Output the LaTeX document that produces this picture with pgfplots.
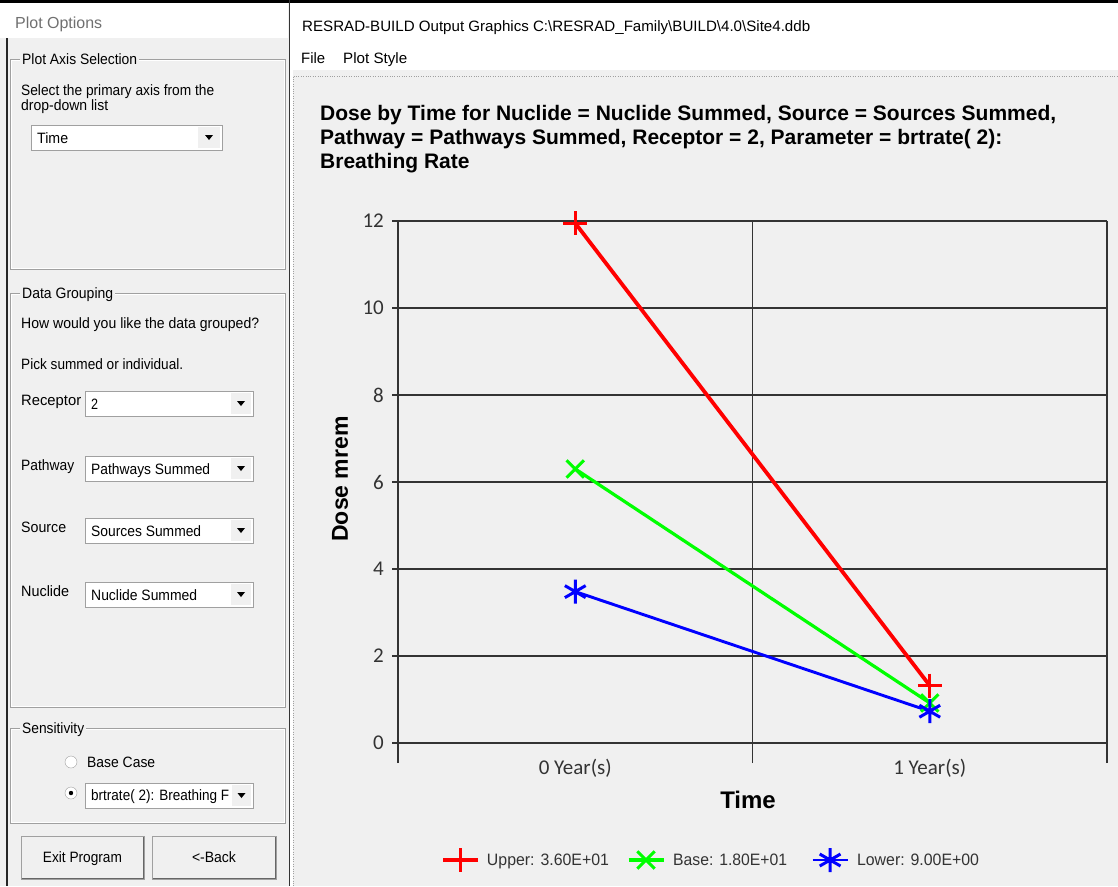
\documentclass[border=0pt]{standalone}
\usepackage{pgfplots}
\pgfplotsset{compat=1.18}
\usepackage{fontspec}
\setmainfont{Liberation Sans}
\newfontfamily\cali{Carlito}
\definecolor{bg}{HTML}{F0F0F0}
\definecolor{gb}{HTML}{A0A0A0}
\definecolor{tk}{HTML}{333333}
\definecolor{ttl}{HTML}{707070}
\newcommand{\gt}[2]{\resizebox{#1pt}{\height}{#2}}
\newcommand{\gf}{\fontsize{15}{17}\selectfont}
\pgfplotstableread{
x y
0 11.95
1 1.32
}\tabUp
\pgfplotstableread{
x y
0 6.30
1 0.92
}\tabBase
\pgfplotstableread{
x y
0 3.48
1 0.73
}\tabLow
\begin{document}
\begin{tikzpicture}
\useasboundingbox (0pt,0pt) rectangle (1118pt,-886pt);
\begin{scope}[x=1pt,y=1pt]
\fill[bg] (0,0) rectangle (1118,-886);
\fill[white] (0,0) rectangle (288,-38);
\fill[white] (290,0) rectangle (1118,-70);
\fill[white] (290,-70) rectangle (293,-886);
\draw[black, line width=3pt] (0,-1.5) -- (1118,-1.5);
\draw[black!85, line width=2pt] (7,-38) -- (7,-886);
\draw[black!80, line width=1pt] (289,0) -- (289,-886);
\draw[gb, dotted] (293.5,-76.5) -- (1118,-76.5);
\draw[gb, dotted] (293.5,-76.5) -- (293.5,-886);
% left panel
\node[anchor=base west, inner sep=0, font=\fontsize{16}{18}\selectfont, text=ttl] at (15,-28) {\gt{87}{Plot Options}};
% group 1
\draw[gb] (10,-59) rectangle (285,-269);
\draw[white] (11,-60) rectangle (284,-268);
\node[fill=bg, inner xsep=2pt, inner ysep=1pt, anchor=base west, font=\gf] at (20,-64) {\gt{115}{Plot Axis Selection}};
\node[anchor=base west, inner sep=0, font=\gf] at (21,-95.5) {\gt{193}{Select the primary axis from the}};
\node[anchor=base west, inner sep=0, font=\gf] at (21,-110.5) {\gt{87}{drop-down list}};
\draw[gb, fill=white] (31,-125) rectangle (222,-150);
\fill[bg] (198,-127) rectangle (220,-148);
\fill[black] (205,-135) -- (213,-135) -- (209,-140) -- cycle;
\node[anchor=base west, inner sep=0, font=\gf] at (37,-143) {\gt{31}{Time}};
% group 2
\draw[gb] (10,-293) rectangle (285,-707);
\draw[white] (11,-294) rectangle (284,-706);
\node[fill=bg, inner xsep=2pt, inner ysep=1pt, anchor=base west, font=\gf] at (20,-298) {\gt{91}{Data Grouping}};
\node[anchor=base west, inner sep=0, font=\gf] at (21,-328.5) {\gt{238}{How would you like the data grouped?}};
\node[anchor=base west, inner sep=0, font=\gf] at (21,-369.5) {\gt{162}{Pick summed or individual.}};
\foreach \yy/\lab/\lw/\val/\vw in {400/Receptor/60/2/7, 465/Pathway/53/Pathways Summed/119, 527/Source/45/Sources Summed/110, 591/Nuclide/48/Nuclide Summed/106}{
  \node[anchor=base west, inner sep=0, font=\gf] at (21,-\yy-5.5) {\gt{\lw}{\lab}};
  \draw[gb, fill=white] (85,-\yy+9) rectangle (253,-\yy-16);
  \fill[bg] (231,-\yy+7) rectangle (251,-\yy-14);
  \fill[black] (237,-\yy-1) -- (245,-\yy-1) -- (241,-\yy-6) -- cycle;
  \node[anchor=base west, inner sep=0, font=\gf] at (91,-\yy-9.5) {\gt{\vw}{\val}};
}
% group 3
\draw[gb] (10,-728) rectangle (285,-823);
\draw[white] (11,-729) rectangle (284,-822);
\node[fill=bg, inner xsep=2pt, inner ysep=1pt, anchor=base west, font=\gf] at (20,-733.5) {\gt{62}{Sensitivity}};
\draw[gb, fill=white] (71,-762) circle (6);
\node[anchor=base west, inner sep=0, font=\gf] at (87,-767.5) {\gt{68}{Base Case}};
\draw[gb, fill=white] (71,-793) circle (6);
\fill[black] (71,-793) circle (2.2);
\draw[gb, fill=white] (85,-783) rectangle (253,-808);
\fill[bg] (232,-785) rectangle (251,-806);
\fill[black] (237.5,-793) -- (245.5,-793) -- (241.5,-798) -- cycle;
\node[anchor=base west, inner sep=0, font=\gf] at (91,-800.5) {\gt{138}{brtrate( 2): Breathing F}};
% buttons
\draw[gb, fill=bg] (21,-836) rectangle (144,-879);
\draw[black!60] (21.5,-878.5) -- (143.5,-878.5) -- (143.5,-836.5);
\node[anchor=base, inner sep=0, font=\gf] at (82.5,-862.5) {\gt{79}{Exit Program}};
\draw[gb, fill=bg] (152,-836) rectangle (276,-879);
\draw[black!60] (152.5,-878.5) -- (275.5,-878.5) -- (275.5,-836.5);
\node[anchor=base, inner sep=0, font=\gf] at (214,-862.5) {\gt{44}{<-Back}};
% right window header
\node[anchor=base west, inner sep=0, font=\gf] at (302,-31) {\gt{508}{RESRAD-BUILD Output Graphics C:\textbackslash RESRAD\_Family\textbackslash BUILD\textbackslash 4.0\textbackslash Site4.ddb}};
\node[anchor=base west, inner sep=0, font=\gf] at (301,-63) {\gt{24}{File}};
\node[anchor=base west, inner sep=0, font=\gf] at (343,-63) {\gt{64}{Plot Style}};
% chart title
\node[anchor=base west, inner sep=0, align=left, font=\fontsize{21}{24}\selectfont\bfseries] at (320,-120)
 {Dose by Time for Nuclide = Nuclide Summed, Source = Sources Summed,};
\node[anchor=base west, inner sep=0, align=left, font=\fontsize{21}{24}\selectfont\bfseries] at (320,-144)
 {Pathway = Pathways Summed, Receptor = 2, Parameter = brtrate( 2):};
\node[anchor=base west, inner sep=0, align=left, font=\fontsize{21}{24}\selectfont\bfseries] at (320,-168)
 {Breathing Rate};
\end{scope}
\begin{axis}[
  at={(398pt,-763pt)}, anchor=south west,
  scale only axis, width=709pt, height=542pt,
  xmin=-0.5, xmax=1.5, ymin=-0.46, ymax=12,
  axis line style={draw=none},
  xtick={0,1}, xticklabels={0 Year(s),1 Year(s)},
  xtick style={draw=none},
  ytick={0,2,...,12}, ytick pos=left,
  tick align=outside, major tick length=6pt,
  ytick style={black!80, line width=1.3pt},
  ymajorgrids, grid style={black!80, line width=1.3pt},
  extra x ticks={-0.5,0.5,1.5}, extra x tick labels={},
  extra x tick style={grid=major, major tick length=0pt, major grid style={black!80, line width=1.6pt}},
  /pgf/number format/assume math mode=true,
  tick label style={font=\cali\fontsize{21}{23}\selectfont, text=tk},
  xticklabel style={font=\cali\fontsize{21}{23}\selectfont, text=tk, anchor=center, yshift=1pt},
  yticklabel style={font=\cali\fontsize{21}{23}\selectfont, text=tk, anchor=east, inner sep=0pt, xshift=-8pt},
  xlabel={Time}, ylabel={Dose mrem},
  xlabel style={at={(axis description cs:0.4937,-0.068)}, anchor=center, font=\fontsize{24}{28}\selectfont\bfseries},
  ylabel style={at={(axis description cs:-0.0818,0.524)}, anchor=center, rotate=0, font=\fontsize{23}{28}\selectfont\bfseries},
  clip=false,
  legend columns=3,
  legend style={at={(axis description cs:0.0606,-0.179)}, anchor=west, draw=none, fill=none,
    inner sep=0pt, column sep=0pt, nodes={inner sep=0pt, anchor=west}, font=\fontsize{16.5}{19}\selectfont, text=tk},
  legend image code/.code={\draw[#1, mark repeat=2, mark phase=2] plot coordinates {(0pt,0pt) (17.5pt,0pt) (35pt,0pt)};},
]
\addplot[red, line width=3.8pt, mark=+, mark size=12pt, mark options={line width=3pt}] table {\tabUp};
\addlegendentry{\makebox[147pt][l]{\hspace{7pt}\gt{122}{Upper: 3.60E+01}}}
\addplot[green, line width=3.2pt, mark=x, mark size=12.3pt, mark options={line width=3pt}] table {\tabBase};
\addlegendentry{\makebox[146pt][l]{\hspace{8pt}\gt{114}{Base: 1.80E+01}}}
\addplot[blue, line width=2.9pt, mark=asterisk, mark size=12pt, mark options={line width=3pt}] table {\tabLow};
\addlegendentry{\hspace{8pt}\gt{122}{Lower: 9.00E+00}}
\end{axis}
\end{tikzpicture}
\end{document}
